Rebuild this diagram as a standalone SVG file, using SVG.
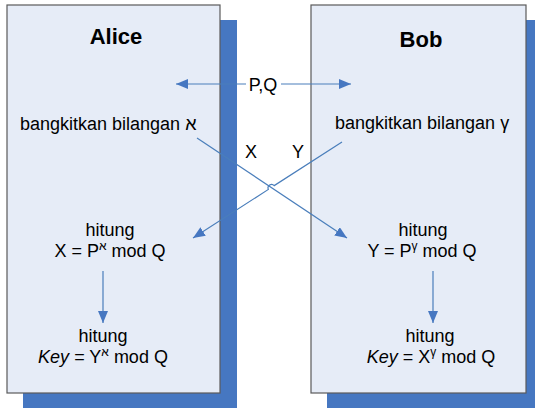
<svg xmlns="http://www.w3.org/2000/svg" width="535" height="408" viewBox="0 0 535 408">
  <style>
    .shadow { fill: #4677c1; }
    .panel { fill: #e6ecf7; stroke: #5a5a5a; stroke-width: 1.2; }
    .title { font-family: "Liberation Sans", Arial, sans-serif; font-size: 22px; font-weight: bold; fill: #000; text-anchor: middle; }
    .txt { font-family: "Liberation Sans", Arial, sans-serif; font-size: 18px; fill: #000; }
    .mid { text-anchor: middle; }
    .sup { font-size: 12px; }
    .conn { stroke: #4a7ebb; stroke-width: 1.2; fill: none; }
  </style>
  <defs>
    <marker id="arrow" viewBox="0 0 12 10" refX="12" refY="5" markerWidth="12" markerHeight="10" markerUnits="userSpaceOnUse" orient="auto">
      <path d="M0,0 L12,5 L0,10 Z" fill="#4677c1"/>
    </marker>
  </defs>

  <!-- Alice panel -->
  <g id="alice">
    <rect class="shadow" x="23" y="20" width="214" height="388"/>
    <rect class="panel" x="7" y="5" width="213" height="388"/>
    <text class="title" x="116" y="44">Alice</text>
    <text class="txt" x="20" y="130">bangkitkan bilangan א</text>
    <text class="txt mid" x="110" y="236">hitung</text>
    <text class="txt mid" x="110" y="257">X = P<tspan class="sup" dy="-7">א</tspan><tspan dy="7"> mod Q</tspan></text>
    <text class="txt mid" x="103" y="342">hitung</text>
    <text class="txt mid" x="103" y="363"><tspan font-style="italic">Key</tspan> = Y<tspan class="sup" dy="-7">א</tspan><tspan dy="7"> mod Q</tspan></text>
  </g>

  <!-- Bob panel -->
  <g id="bob">
    <rect class="shadow" x="327" y="20" width="215" height="388"/>
    <rect class="panel" x="311" y="5" width="215" height="388"/>
    <text class="title" x="421" y="47">Bob</text>
    <text class="txt" x="335" y="129">bangkitkan bilangan γ</text>
    <text class="txt mid" x="423" y="236">hitung</text>
    <text class="txt mid" x="422" y="257">Y = P<tspan class="sup" dy="-7">γ</tspan><tspan dy="7"> mod Q</tspan></text>
    <text class="txt mid" x="430" y="342">hitung</text>
    <text class="txt mid" x="431" y="363"><tspan font-style="italic">Key</tspan> = X<tspan class="sup" dy="-7">γ</tspan><tspan dy="7"> mod Q</tspan></text>
  </g>

  <!-- Exchange labels -->
  <g id="labels">
    <text class="txt mid" x="263" y="91">P,Q</text>
    <text class="txt mid" x="251" y="158">X</text>
    <text class="txt mid" x="298" y="158">Y</text>
  </g>

  <!-- Connectors -->
  <g id="connectors">
    <line class="conn" x1="246" y1="84" x2="176" y2="84" marker-end="url(#arrow)"/>
    <line class="conn" x1="281" y1="84" x2="351" y2="84" marker-end="url(#arrow)"/>
    <line class="conn" x1="197" y1="138" x2="347" y2="238" marker-end="url(#arrow)"/>
    <path class="conn" d="M342,142 L274.2,185.6 A3.5,3.5 0 0 0 268.4,189.4 L193,238" marker-end="url(#arrow)"/>
    <line class="conn" x1="103" y1="271" x2="103" y2="323" marker-end="url(#arrow)"/>
    <line class="conn" x1="433" y1="271" x2="433" y2="323" marker-end="url(#arrow)"/>
  </g>
</svg>
